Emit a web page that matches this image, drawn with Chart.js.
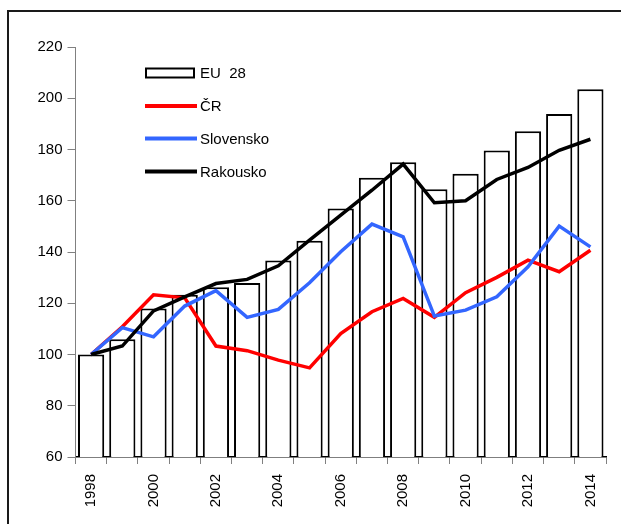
<!DOCTYPE html>
<html>
<head>
<meta charset="utf-8">
<script src="https://cdn.jsdelivr.net/npm/chart.js@4/dist/chart.umd.min.js"></script>
<style>
html,body{margin:0;padding:0;background:#fff;}
#wrap{width:621px;height:524px;position:relative;}
</style>
</head>
<body>
<div id="wrap"><canvas id="c" width="621" height="524"></canvas></div>
<script>
const years = ['1998','1999','2000','2001','2002','2003','2004','2005','2006','2007','2008','2009','2010','2011','2012','2013','2014'];
const eu28 = [100, 106, 118, 123.3, 126.2, 127.9, 136.7, 144.4, 157, 169, 175, 164.5, 170.5, 179.6, 187.1, 193.9, 203.5];
const cr = [100, 110.8, 123.3, 122.1, 103.3, 101.5, 97.8, 94.8, 108.2, 116.7, 121.9, 114.5, 124.1, 130.1, 136.8, 132.3, 140.7];
const slovensko = [100, 110.5, 106.9, 118.9, 124.9, 114.5, 117.6, 128, 140.1, 150.9, 145.9, 115, 117.3, 122.5, 134.2, 150.1, 142];
const rakousko = [100, 103.3, 117, 122.5, 127.7, 129.3, 134.6, 144.6, 154.4, 164.1, 174.3, 159.2, 160, 168.3, 173, 179.7, 184];
const yMin = 60, yMax = 220, yStep = 20;

const FONT = 'Liberation Sans, Arial, sans-serif';

const frameAndLegend = {
  id: 'frameAndLegend',
  beforeDraw(chart) {
    const ctx = chart.ctx;
    ctx.save();
    ctx.fillStyle = '#fff';
    ctx.fillRect(0, 0, chart.width, chart.height);
    ctx.strokeStyle = '#1a1a1a';
    ctx.lineWidth = 2;
    ctx.strokeRect(8, 11, 700, 600);
    ctx.restore();
  },
  afterDatasetsDraw(chart) {
    const ctx = chart.ctx;
    const ds = chart.data.datasets;
    const rows = [73, 106, 138.5, 171.5];
    ctx.save();
    ctx.font = '15px ' + FONT;
    ctx.textBaseline = 'middle';
    ctx.textAlign = 'left';
    ds.forEach((d, i) => {
      const y = rows[i];
      if (d.type === 'bar') {
        ctx.fillStyle = '#fff';
        ctx.fillRect(145, y - 5, 50, 10);
        ctx.strokeStyle = '#000';
        ctx.lineWidth = 2;
        ctx.strokeRect(146, y - 4.5, 48, 9);
      } else {
        ctx.strokeStyle = d.borderColor;
        ctx.lineWidth = 4;
        ctx.beginPath();
        ctx.moveTo(145, y);
        ctx.lineTo(197, y);
        ctx.stroke();
      }
      ctx.fillStyle = '#000';
      ctx.fillText(d.label, 200, y + 1);
    });
    ctx.restore();
  }
};

new Chart(document.getElementById('c'), {
  data: {
    labels: years,
    datasets: [
      { type: 'bar', label: 'EU  28', data: eu28, backgroundColor: '#fff', borderColor: '#000', borderWidth: 2, barPercentage: 0.84, categoryPercentage: 1, order: 10 },
      { type: 'line', label: 'ČR', data: cr, borderColor: '#ff0000', borderWidth: 3.5, pointRadius: 0, tension: 0, fill: false, order: 3 },
      { type: 'line', label: 'Slovensko', data: slovensko, borderColor: '#3366ff', borderWidth: 3.5, pointRadius: 0, tension: 0, fill: false, order: 2 },
      { type: 'line', label: 'Rakousko', data: rakousko, borderColor: '#000000', borderWidth: 3.5, pointRadius: 0, tension: 0, fill: false, order: 1 }
    ]
  },
  options: {
    responsive: false,
    animation: false,
    layout: { padding: { left: 0, top: 47, right: 15, bottom: 0 } },
    plugins: { legend: { display: false }, tooltip: { enabled: false }, title: { display: false } },
    scales: {
      x: {
        type: 'category',
        offset: true,
        grid: { offset: true, drawOnChartArea: false, drawTicks: true, tickLength: 7, color: '#808080', lineWidth: 1 },
        border: { display: true, color: '#000', width: 1.5 },
        ticks: {
          autoSkip: false, maxRotation: 90, minRotation: 90, padding: 10,
          color: '#000', font: { family: FONT, size: 15 },
          callback: function (v, i) { return i % 2 === 0 ? this.getLabelForValue(v) : ''; }
        },
        afterFit(s) { s.height = 67; }
      },
      y: {
        min: yMin, max: yMax,
        grid: { drawOnChartArea: false, drawTicks: true, tickLength: 8, color: '#808080' },
        border: { display: true, color: '#808080', width: 1 },
        ticks: { stepSize: yStep, padding: 5, color: '#000', font: { family: FONT, size: 15 } },
        afterFit(s) { s.width = 75.5; }
      }
    }
  },
  plugins: [frameAndLegend]
});
</script>
</body>
</html>
